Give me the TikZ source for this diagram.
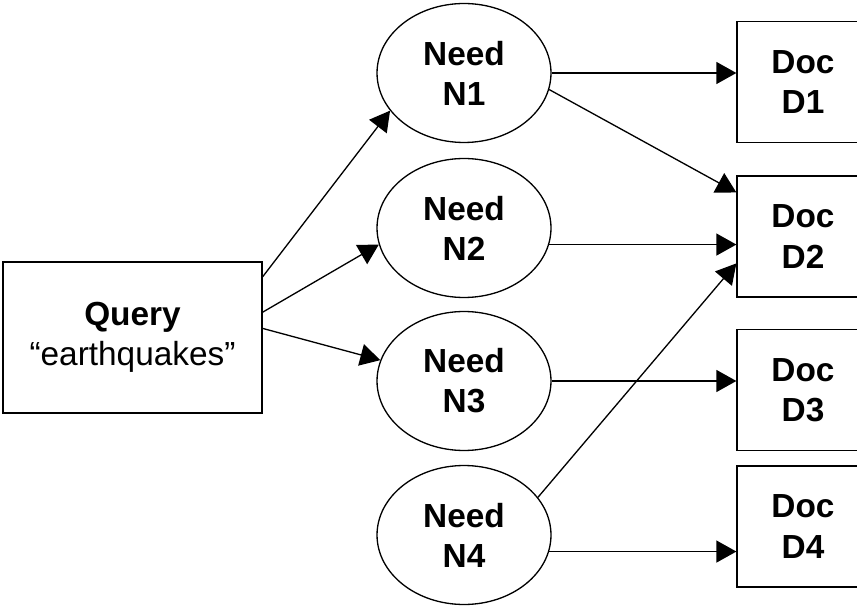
\documentclass[tikz,border=0pt]{standalone}
\usepackage{fontspec}
\setmainfont{Liberation Sans}
\usepackage{tikz}
\usetikzlibrary{arrows.meta,shapes.geometric,calc}

\begin{document}
\begin{tikzpicture}[x=0.02cm,y=-0.02cm,
  lbl/.style={font=\fontsize{19}{22.8}\selectfont,align=center,inner sep=0pt},
  need/.style={lbl,ellipse,draw,line width=0.75pt,minimum width=3.48cm,minimum height=2.78cm},
  doc/.style={lbl,draw,line width=0.75pt,minimum width=2.64cm,minimum height=2.42cm},
  qbox/.style={lbl,draw,line width=0.75pt,minimum width=5.18cm,minimum height=3.02cm},
  link/.style={line width=0.75pt,-{Triangle[length=0.4cm,width=0.44cm]}}]
\useasboundingbox (0,0) rectangle (857,607);
\clip (0,0) rectangle (857,607);
% query
\node[qbox] (query) at (132.5,337.5) {\bfseries Query\\“earthquakes”};
% needs
\node[need] (n1) at (464,73) {\bfseries Need\\\bfseries N1};
\node[need] (n2) at (464,228) {\bfseries Need\\\bfseries N2};
\node[need] (n3) at (464,381) {\bfseries Need\\\bfseries N3};
\node[need] (n4) at (464,535) {\bfseries Need\\\bfseries N4};
% docs
\node[doc] (d1) at (803,82) {\bfseries Doc\\\bfseries D1};
\node[doc] (d2) at (803,236.5) {\bfseries Doc\\\bfseries D2};
\node[doc] (d3) at (803,390) {\bfseries Doc\\\bfseries D3};
\node[doc] (d4) at (803,526.5) {\bfseries Doc\\\bfseries D4};
% query to needs
\draw[link] (query.25) -- (n1.207);
\draw[link] (query.11) -- (n2.191);
\draw[link] (query.4) -- (n3.166);
% needs to docs
\draw[link] (n1.east) -- (n1.east -| d1.west);
\draw[link] (n1.-11) -- ($(d2.north west)!0.14!(d2.south west)$);
\draw[link] (n2.-11) -- (n2.-11 -| d2.west);
\draw[link] (n4.27) -- ($(d2.north west)!0.72!(d2.south west)$);
\draw[link] (n3.east) -- (n3.east -| d3.west);
\draw[link] (n4.-11) -- (n4.-11 -| d4.west);
\end{tikzpicture}
\end{document}
